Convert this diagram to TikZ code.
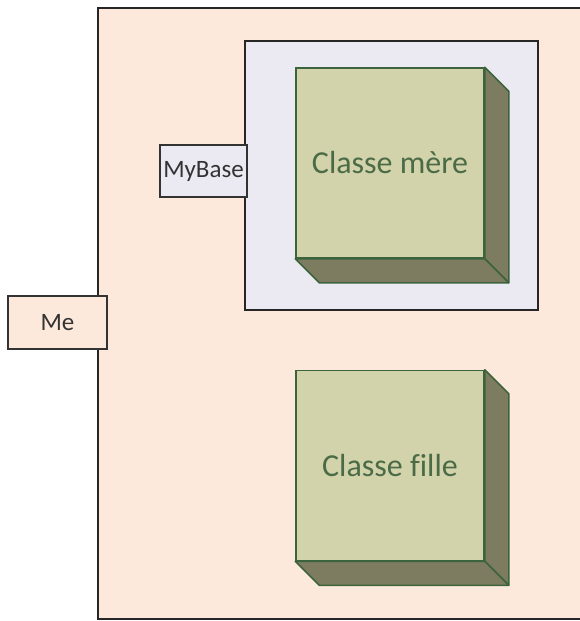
\documentclass[tikz,border=0pt]{standalone}
\usepackage{fontspec}
\setmainfont[Ligatures=NoCommon]{Carlito}
\usetikzlibrary{calc}
\definecolor{peach}{HTML}{FDE9DB}
\definecolor{lavender}{HTML}{EBE9F2}
\definecolor{cubefront}{HTML}{D2D3AB}
\definecolor{cubeside}{HTML}{7D7C61}
\definecolor{cubeline}{HTML}{3C643C}
\definecolor{cubetext}{HTML}{4B6B47}
\tikzset{
  portbox/.style={draw=black!80,line width=1.3pt,font=\fontsize{25}{28}\selectfont,text=black!80,inner sep=0pt},
  cubefront/.style={draw=cubeline,fill=cubefront,line width=1.5pt,minimum width=188pt,minimum height=190pt,
    text=cubetext,font=\fontsize{32}{36}\selectfont,inner sep=0pt},
  cubeside/.style={draw=cubeline,fill=cubeside,line width=1.5pt,line join=round}
}
\begin{document}
\begin{tikzpicture}[x=1pt,y=-1pt]
  \useasboundingbox (0,0) rectangle (579,621);
  % Component Me
  \draw[fill=peach,line width=1.3pt,draw=black!85] (98,8) rectangle (600,619);
  % Part MyBase
  \draw[fill=lavender,line width=1.3pt,draw=black!85] (245,41) rectangle (538,310);
  % Classe mere
  \node[cubefront] (mere) at (390,163) {Classe mère};
  \draw[cubeside] (mere.north east) -- ++(24,24) -- ($(mere.south east)+(24,24)$) -- (mere.south east) -- cycle;
  \draw[cubeside] (mere.south west) -- (mere.south east) -- ++(24,24) -- ($(mere.south west)+(24,24)$) -- cycle;
  % Classe fille
  \node[cubefront] (fille) at (390,465.5) {Classe fille};
  \draw[cubeside] (fille.north east) -- ++(24,24) -- ($(fille.south east)+(24,24)$) -- (fille.south east) -- cycle;
  \draw[cubeside] (fille.south west) -- (fille.south east) -- ++(24,24) -- ($(fille.south west)+(24,24)$) -- cycle;
  % Ports
  \node[portbox,fill=lavender,minimum width=87pt,minimum height=52pt] (mybase) at (203.5,171) {MyBase};
  \node[portbox,fill=peach,minimum width=99pt,minimum height=53pt] (me) at (57.5,322.5) {Me};
\end{tikzpicture}
\end{document}
